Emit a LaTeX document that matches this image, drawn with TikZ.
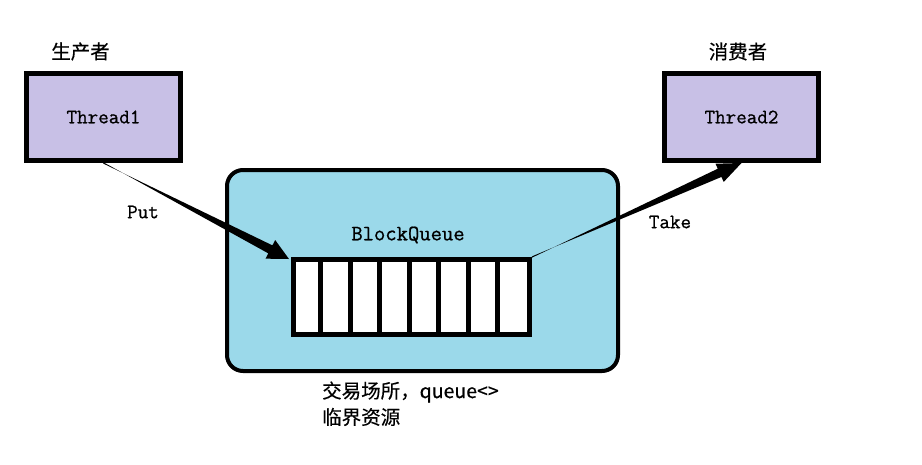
\documentclass[tikz,border=0pt]{standalone}
\usepackage{fontspec}
\newfontfamily\cjk{Noto Sans CJK SC}[FakeBold=0.4]
\newfontfamily\monob{Latin Modern Mono}[FakeBold=0.8]
\usetikzlibrary{calc}
\definecolor{lav}{RGB}{200,192,230}
\definecolor{qblue}{RGB}{155,217,234}
\tikzset{
  thread/.style={draw=black, line width=5pt, fill=lav, minimum width=154pt, minimum height=87pt, inner sep=0pt, font=\monob\fontsize{20.5}{20}\selectfont},
  area/.style={draw=black, line width=4pt, fill=qblue, rounded corners=16pt, minimum width=391pt, minimum height=201pt, inner sep=0pt},
  queuebox/.style={draw=black, line width=5pt, fill=white, minimum width=236pt, minimum height=75pt, inner sep=0pt},
  mono/.style={font=\monob\fontsize{20.5}{20}\selectfont, inner sep=0pt},
  cn/.style={font=\cjk\fontsize{19.5}{19}\selectfont, inner sep=0pt},
  divider/.style={line width=5pt},
}
\begin{document}
\begin{tikzpicture}[x=1pt, y=-1pt]
\useasboundingbox (0,0) rectangle (922,464);
% threads
\node[thread] (t1) at (103.5,117) {Thread1};
\node[thread] (t2) at (741.5,117) {Thread2};
\node[cn] (l1) at (80.5,51.5) {生产者};
\node[cn] (l2) at (738,51.5) {消费者};
% area
\node[area] (a) at (422.5,270.5) {};
\node[queuebox] (q) at (411.5,297) {};
\foreach \k in {1,...,7}{
  \draw[divider] ($(q.north west)+(\k*29.5,0)$) coordinate (dt\k) -- ($(q.south west)+(\k*29.5,0)$) coordinate (db\k);
}
\node[mono, font=\monob\fontsize{22}{22}\selectfont] (bq) at (408,235) {BlockQueue};
% Put arrow (tapered)
\coordinate (ps) at (t1.south);
\coordinate (pe) at ($(q.north west)+(-2,2)$);
\coordinate (pb) at ($(pe)!21pt!(ps)$);
\fill[black] ($(ps)!0.6pt!90:(pe)$) -- ($(pb)!4.5pt!-90:(pe)$) -- ($(pb)!10.5pt!-90:(pe)$) -- (pe)
  -- ($(pb)!10.5pt!90:(pe)$) -- ($(pb)!4.5pt!90:(pe)$) -- ($(ps)!0.6pt!-90:(pe)$) -- cycle;
\node[mono] (put) at (143,212) {Put};
% Take arrow (tapered)
\coordinate (ts) at (q.north east);
\coordinate (te) at (t2.south);
\coordinate (tb) at ($(te)!24pt!(ts)$);
\fill[black] ($(ts)!0.6pt!90:(te)$) -- ($(tb)!4.5pt!-90:(te)$) -- ($(tb)!10pt!-90:(te)$) -- (te)
  -- ($(tb)!10pt!90:(te)$) -- ($(tb)!4.5pt!90:(te)$) -- ($(ts)!0.6pt!-90:(te)$) -- cycle;
\node[mono] (take) at (670,222) {Take};
% bottom text
\node[cn, anchor=west] (b1) at (322,392) {交易场所，queue<>};
\node[cn, anchor=west] (b2) at (322,417) {临界资源};
\end{tikzpicture}
\end{document}
